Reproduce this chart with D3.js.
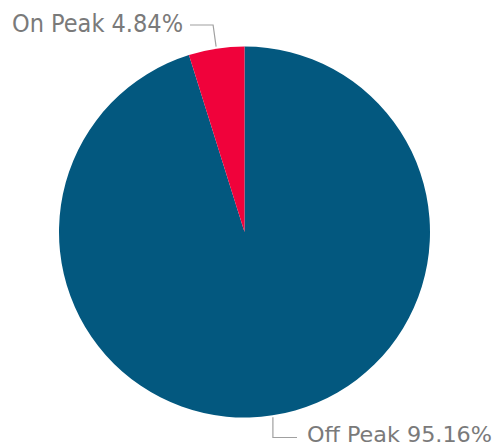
<!DOCTYPE html>
<html><head><meta charset="utf-8">
<script src="https://cdn.jsdelivr.net/npm/d3@7"></script>
<style>body{margin:0;background:#fff;} svg{display:block;}</style>
</head><body>
<script>
const categories = ["Off Peak", "On Peak"];
const values = [95.16, 4.84];
const colors = ["#03587f", "#f0023b"];

const W = 498, H = 447;
const cx = 244.5, cy = 232, r = 185.5;
const svg = d3.select("body").append("svg").attr("width", W).attr("height", H);
const data = categories.map((c, i) => ({cat: c, value: values[i], color: colors[i]}));
const pie = d3.pie().sort(null).value(d => d.value);
const arc = d3.arc().innerRadius(0).outerRadius(r);
const arcs = pie(data);
const g = svg.append("g").attr("transform", `translate(${cx},${cy})`);
g.selectAll("path").data(arcs).enter().append("path")
  .attr("d", arc).attr("fill", d => d.data.color);

const font = "'DejaVu Sans Condensed', sans-serif";
const textColor = "#7a7a7a";
// On Peak label
const onArc = arcs[1];
const onMid = (onArc.startAngle + onArc.endAngle) / 2;
const onPt = [cx + Math.sin(onMid) * (r + 2), cy - Math.cos(onMid) * (r + 2)];
svg.append("polyline")
  .attr("points", `${onPt[0]},${onPt[1]} ${onPt[0]-3},25 190,25`)
  .attr("fill", "none").attr("stroke", "#a0a0a0").attr("stroke-width", 1.2);
svg.append("text").attr("x", 183).attr("y", 32).attr("text-anchor", "end")
  .attr("font-family", font).attr("font-size", 24).attr("fill", textColor)
  .attr("textLength", 171).attr("lengthAdjust", "spacingAndGlyphs")
  .text(`${categories[1]} ${values[1].toFixed(2)}%`);

// Off Peak label
const offArc = arcs[0];
const offMid = (offArc.startAngle + offArc.endAngle) / 2;
const offPt = [cx + Math.sin(offMid) * (r + 2), cy - Math.cos(offMid) * (r + 2)];
svg.append("polyline")
  .attr("points", `${offPt[0]},${offPt[1]} ${offPt[0]},437.5 297,437.5`)
  .attr("fill", "none").attr("stroke", "#a0a0a0").attr("stroke-width", 1.2);
svg.append("text").attr("x", 307).attr("y", 442).attr("text-anchor", "start")
  .attr("font-family", font).attr("font-size", 21).attr("fill", textColor)
  .attr("textLength", 185).attr("lengthAdjust", "spacingAndGlyphs")
  .text(`${categories[0]} ${values[0].toFixed(2)}%`);
</script>
</body></html>
